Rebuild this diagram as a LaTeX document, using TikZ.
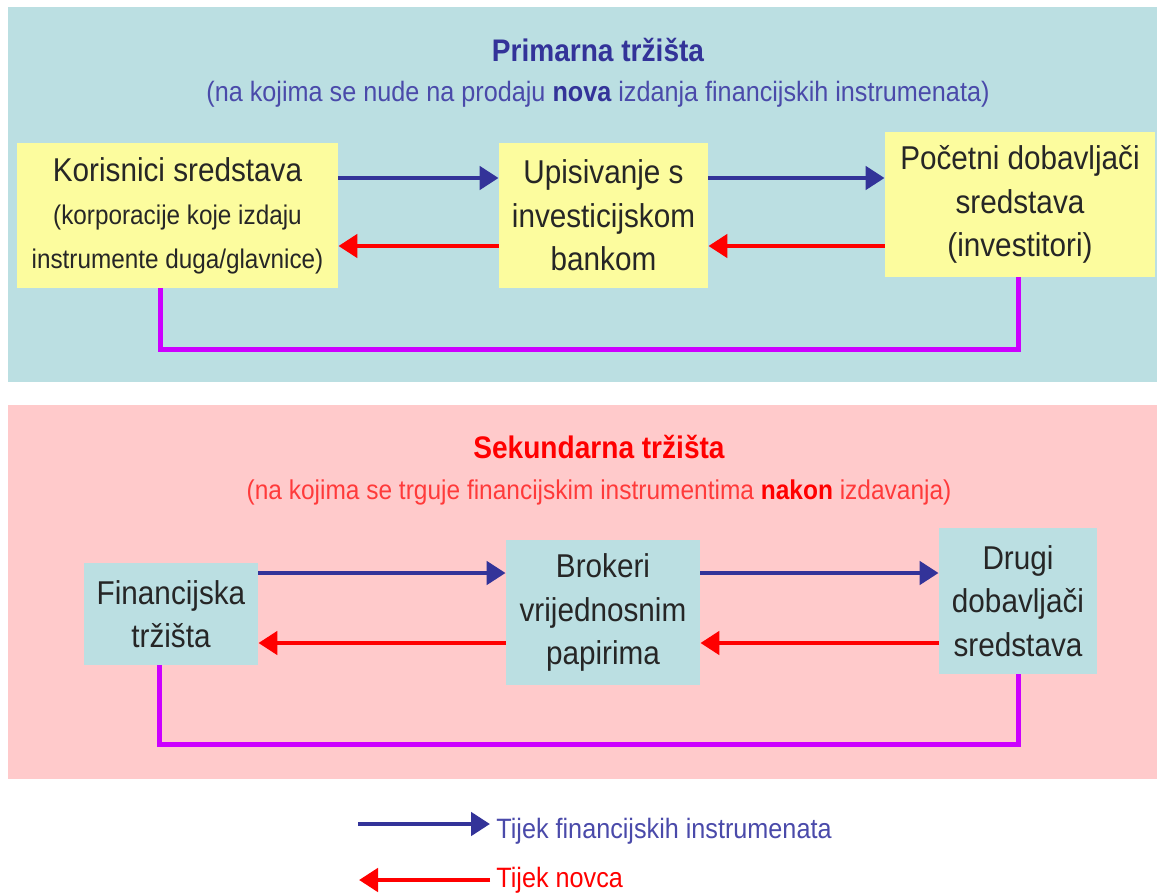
\documentclass[tikz,border=0pt]{standalone}
\usepackage{fontspec}
\setmainfont{Liberation Sans}[FakeStretch=0.9]
\usetikzlibrary{arrows.meta}
\definecolor{panelcyan}{HTML}{BBDFE2}
\definecolor{panelpink}{HTML}{FFCACB}
\definecolor{boxyellow}{HTML}{FCFC9E}
\definecolor{instrblue}{HTML}{333399}
\definecolor{subblue}{HTML}{4A4AAA}
\definecolor{moneyred}{HTML}{FF0000}
\definecolor{subred}{HTML}{FF3A3A}
\definecolor{linkpurple}{HTML}{CC00FF}
\newcommand{\boxfont}{\fontsize{16.5}{21.75}\selectfont}
\newcommand{\smallboxfont}{\fontsize{13.5}{21}\selectfont}

\begin{document}
\begin{tikzpicture}[x=0.5pt, y=-0.5pt,
		box/.style={inner sep=0pt, align=center, font=\boxfont, text=black!85},
		title/.style={font=\fontsize{15.6}{18}\selectfont\bfseries},
		subtitle/.style={font=\fontsize{14}{17}\selectfont},
		legendtext/.style={anchor=west, inner sep=3pt, font=\fontsize{14}{17}\selectfont},
		instr/.style={line width=2.4pt, instrblue, -{Triangle[length=9.5pt, width=11.5pt]}},
		money/.style={line width=2.4pt, moneyred, -{Triangle[length=9.5pt, width=11.5pt]}},
		link/.style={line width=2.5pt, linkpurple}]
				\useasboundingbox (0,0) rectangle (1157,894);
				\fill[white] (0,0) rectangle (1157,894);
				\fill[panelcyan] (8,7) rectangle (1157,382);
				\fill[panelpink] (8,405) rectangle (1157,779);
				% primarna trzista
				\node[title, text=instrblue] (ptitle) at (598,50) {Primarna tržišta};
				\node[subtitle, text=subblue] (psub) at (598,94) {(na kojima se nude na prodaju \textbf{\color{instrblue}nova} izdanja financijskih instrumenata)};
				\node[box, fill=boxyellow, minimum width=160.5pt, minimum height=72.5pt] (kor) at (177.5,215.5) {Korisnici sredstava\\ \smallboxfont (korporacije koje izdaju\\ \smallboxfont instrumente duga/glavnice)};
				\node[box, fill=boxyellow, minimum width=104.5pt, minimum height=72.5pt] (upis) at (603.5,215.5) {Upisivanje s\\ investicijskom\\ bankom};
				\node[box, fill=boxyellow, minimum width=135pt, minimum height=72.5pt] (poc) at (1020,204.5) {Početni dobavljači\\ sredstava\\ (investitori)};
				\draw[instr] (kor.east |- 0,178) -- (upis.west |- 0,178);
				\draw[instr] (upis.east |- 0,178) -- (poc.west |- 0,178);
				\draw[money] (upis.west |- 0,246) -- (kor.east |- 0,246);
				\draw[money] (poc.west |- 0,246) -- (upis.east |- 0,246);
				\draw[link] (kor.south -| 160,0) -- (160,349) -| (poc.south -| 1018,0);
				% sekundarna trzista
				\node[title, text=moneyred] (stitle) at (599,447) {Sekundarna tržišta};
				\node[subtitle, text=subred, font=\fontsize{13.6}{17}\selectfont] (ssub) at (599,492) {(na kojima se trguje financijskim instrumentima \textbf{\color{moneyred}nakon} izdavanja)};
				\node[box, fill=panelcyan, minimum width=87pt, minimum height=51pt] (fin) at (171,614) {Financijska\\ tržišta};
				\node[box, fill=panelcyan, minimum width=97pt, minimum height=72.5pt] (brok) at (603,612.5) {Brokeri\\ vrijednosnim\\ papirima};
				\node[box, fill=panelcyan, minimum width=79pt, minimum height=73pt] (drugi) at (1018,601) {Drugi\\ dobavljači\\ sredstava};
				\draw[instr] (fin.east |- 0,573) -- (brok.west |- 0,573);
				\draw[instr] (brok.east |- 0,573) -- (drugi.west |- 0,573);
				\draw[money] (brok.west |- 0,643) -- (fin.east |- 0,643);
				\draw[money] (drugi.west |- 0,643) -- (brok.east |- 0,643);
				\draw[link] (fin.south -| 159,0) -- (159,744) -| (drugi.south -| 1018,0);
				% legenda
				\coordinate (la) at (358,824);
				\coordinate (lb) at (359,880);
				\node[legendtext, text=subblue] (lega) at (490,831) {Tijek financijskih instrumenata};
				\node[legendtext, text=moneyred] (legb) at (490,880) {Tijek novca};
				\draw[instr] (la) -- (lega.west |- la);
				\draw[money] (legb.west |- lb) -- (lb);
			\end{tikzpicture}
\end{document}
